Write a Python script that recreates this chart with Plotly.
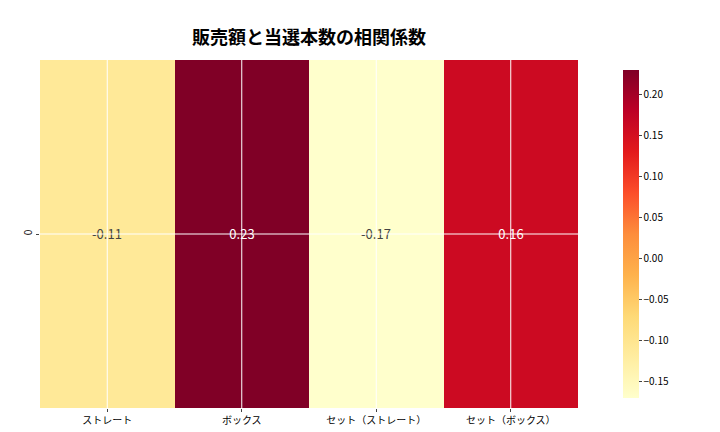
import plotly.graph_objects as go

categories = ["ストレート", "ボックス", "セット（ストレート）", "セット（ボックス）"]
rows = ["0"]
values = [[-0.11, 0.23, -0.17, 0.16]]
labels = ["-0.11", "0.23", "-0.17", "0.16"]

fig = go.Figure(go.Heatmap(
    z=values, x=categories, y=rows,
    colorscale="YlOrRd", zmin=-0.17, zmax=0.23,
    text=[labels], texttemplate="%{text}",
    textfont=dict(size=13),
    colorbar=dict(thickness=16, len=1, lenmode="fraction", y=0.5, yanchor="middle",
                  x=1.065, xanchor="left",
                  tickvals=[-0.15, -0.10, -0.05, 0.0, 0.05, 0.10, 0.15, 0.20],
                  ticktext=["−0.15", "−0.10", "−0.05", "0.00", "0.05", "0.10", "0.15", "0.20"],
                  tickfont=dict(size=10), outlinewidth=0, ticks="outside", ticklen=3),
))
# white grid lines drawn over the cells, like the original
for c in categories:
    fig.add_shape(type="line", xref="x", yref="paper", x0=c, x1=c, y0=0, y1=1,
                  line=dict(color="white", width=1), layer="above")
fig.add_shape(type="line", xref="paper", yref="y", x0=0, x1=1, y0=rows[0], y1=rows[0],
              line=dict(color="white", width=1), layer="above")

fig.update_xaxes(tickfont=dict(size=10), ticks="outside", ticklen=3)
fig.update_yaxes(tickfont=dict(size=10), tickangle=-90, ticks="outside", ticklen=3)
fig.update_layout(
    width=720, height=432,
    font=dict(family="Noto Sans CJK JP", color="black"),
    title=dict(text="<b>販売額と当選本数の相関係数</b>", x=0.418, xanchor="center", y=0.945,
               font=dict(size=18)),
    margin=dict(l=32, r=150, t=52, b=32, autoexpand=False),
    plot_bgcolor="white", paper_bgcolor="white",
)
fig.write_html("out.html")
